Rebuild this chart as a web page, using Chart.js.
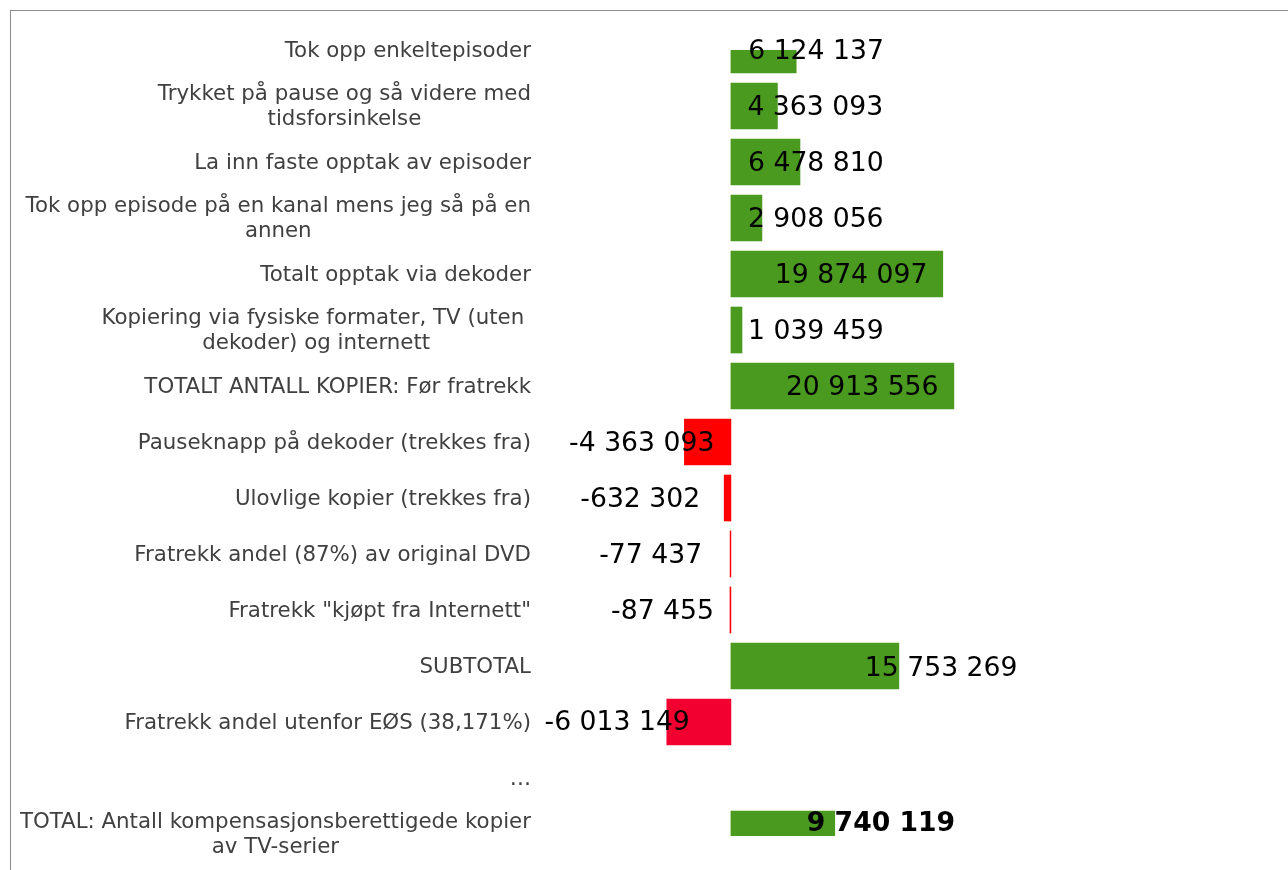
<!DOCTYPE html>
<html>
<head>
<meta charset="utf-8">
<title>Kompensasjonsberettigede kopier av TV-serier</title>
<script src="https://cdn.jsdelivr.net/npm/chart.js@4.4.1/dist/chart.umd.min.js"></script>
<style>
  html, body { margin: 0; padding: 0; background: #fff; overflow: hidden; }
  .frame { position: absolute; left: 10px; top: 10px; width: 1400px; height: 1000px; border: 1px solid #8c8c8c; }
  #chart-one { position: absolute; left: 0; top: 0; }
</style>
</head>
<body>
<div class="frame"></div>
<canvas id="chart-one" width="1288" height="870"></canvas>
<script>
"use strict";

// categories (multi-line ones as arrays)
var categories = [
  "Tok opp enkeltepisoder",
  ["Trykket på pause og så videre med", "tidsforsinkelse"],
  "La inn faste opptak av episoder",
  ["Tok opp episode på en kanal mens jeg så på en", "annen"],
  "Totalt opptak via dekoder",
  ["Kopiering via fysiske formater, TV (uten ", "dekoder) og internett"],
  "TOTALT ANTALL KOPIER: Før fratrekk",
  "Pauseknapp på dekoder (trekkes fra)",
  "Ulovlige kopier (trekkes fra)",
  "Fratrekk andel (87%) av original DVD",
  "Fratrekk \"kjøpt fra Internett\"",
  "SUBTOTAL",
  "Fratrekk andel utenfor EØS (38,171%)",
  "…",
  ["TOTAL: Antall kompensasjonsberettigede kopier", "av TV-serier"]
];

// number of copies per row
var copies = [6124137, 4363093, 6478810, 2908056, 19874097, 1039459, 20913556,
  -4363093, -632302, -77437, -87455, 15753269, -6013149, null, 9740119];

// value axis range (axis itself is hidden)
var xMin = -18000000;
var xMax = 50000000;

// styling
var barColors = ["#4a9a1f", "#4a9a1f", "#4a9a1f", "#4a9a1f", "#4a9a1f", "#4a9a1f", "#4a9a1f",
  "#ff0000", "#ff0000", "#ff0000", "#ff0000", "#4a9a1f", "#f2002f", "#4a9a1f", "#4a9a1f"];
var labelNudge = [[-48, 2], [-30, 2], [-52, 2], [-14, 2], [-168, 2], [6, 2], [-168, 2],
  [30, 2], [-24, 2], [-28, 2], [-16, 2], [-34, 3], [23, 1], null, [-28, -10]];
var boldRow = 14;

function fmt(v) {
  var s = String(Math.abs(v)).replace(/\B(?=(\d{3})+(?!\d))/g, " ");
  return (v < 0 ? "-" : "") + s;
}

// value labels next to the bars
var valueLabels = {
  id: "valueLabels",
  afterDatasetsDraw: function (chart) {
    var ctx = chart.ctx;
    var meta = chart.getDatasetMeta(0);
    ctx.save();
    ctx.fillStyle = "#000";
    ctx.textBaseline = "middle";
    meta.data.forEach(function (bar, i) {
      var v = copies[i];
      if (v === null) return;
      ctx.font = (i === boldRow ? "bold " : "") + "26.67px 'DejaVu Sans'";
      ctx.textAlign = v < 0 ? "right" : "left";
      ctx.fillText(fmt(v), bar.x + labelNudge[i][0], bar.y + labelNudge[i][1]);
    });
    ctx.restore();
  }
};

// category labels, lines centred inside a right aligned block
var categoryLabels = {
  id: "categoryLabels",
  afterDraw: function (chart) {
    var ctx = chart.ctx;
    var yScale = chart.scales.y;
    var right = chart.chartArea.left - 8;
    var lineH = 25;
    ctx.save();
    ctx.font = "21.33px 'DejaVu Sans'";
    ctx.fillStyle = "#404040";
    ctx.textBaseline = "middle";
    ctx.textAlign = "center";
    categories.forEach(function (lab, i) {
      var lines = Array.isArray(lab) ? lab : [lab];
      var w = 0;
      lines.forEach(function (l) { w = Math.max(w, ctx.measureText(l).width); });
      var cx = right - w / 2;
      var y = yScale.getPixelForTick(i) + 1;
      lines.forEach(function (l, j) {
        ctx.fillText(l, cx, y + (j - (lines.length - 1) / 2) * lineH);
      });
    });
    ctx.restore();
  }
};

new Chart("chart-one", {
  type: "bar",
  data: {
    labels: categories,
    datasets: [{
      data: copies,
      backgroundColor: barColors,
      borderWidth: 0,
      barThickness: 46,
      clip: { left: 5, top: 0, right: 5, bottom: 2 }
    }]
  },
  options: {
    indexAxis: "y",
    responsive: false,
    animation: false,
    layout: { padding: { left: 539, right: 24, top: 50, bottom: 36 } },
    scales: {
      x: { display: false, min: xMin, max: xMax },
      y: { display: false, offset: false }
    },
    plugins: {
      legend: { display: false },
      tooltip: { enabled: false }
    }
  },
  plugins: [valueLabels, categoryLabels]
});
</script>
</body>
</html>
